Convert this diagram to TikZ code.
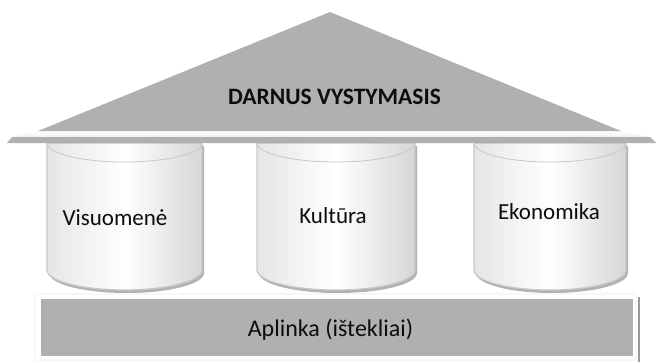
\documentclass[tikz,border=0pt]{standalone}
\usepackage{fontspec}
\setmainfont{Carlito}
\usetikzlibrary{shapes,calc}
\definecolor{roofgray}{RGB}{176,176,176}

\begin{document}
\begin{tikzpicture}[x=1pt,y=-1pt,every text node part/.style={align=center},
    roof/.style={fill=roofgray},
    slab/.style={fill=roofgray},
    pillar/.style={draw=black!22,line width=1.2pt,left color=black!10,right color=black!16,middle color=white},
    pillartop/.style={draw=black!22,line width=0.8pt},
    pillarshadow/.style={fill=black!30},
    pillartext/.style={text=black!95,font=\fontsize{23}{26}\selectfont},
    rooftext/.style={text=black!95,font=\bfseries\fontsize{23.5}{26}\selectfont},
    bartext/.style={text=black!95,font=\fontsize{24}{27}\selectfont},
    basebar/.style={fill=roofgray,minimum width=592pt,minimum height=57pt,inner sep=0pt}]
  \useasboundingbox (0,0) rectangle (656,362);

  % Pillars
  \fill[pillarshadow] (49,146) -- (49,273) arc[start angle=180,end angle=360,x radius=77.5pt,y radius=20pt] -- (204,146) -- cycle;
  \fill[pillarshadow] (259,146) -- (259,273) arc[start angle=180,end angle=360,x radius=79pt,y radius=20pt] -- (417,146) -- cycle;
  \fill[pillarshadow] (476,146) -- (476,273) arc[start angle=180,end angle=360,x radius=76pt,y radius=20pt] -- (628,146) -- cycle;
  \draw[pillar] (47,143) -- (47,270) arc[start angle=180,end angle=360,x radius=77.5pt,y radius=20pt] -- (202,143) -- cycle;
  \draw[pillar] (257,143) -- (257,270) arc[start angle=180,end angle=360,x radius=79pt,y radius=20pt] -- (415,143) -- cycle;
  \draw[pillar] (474,143) -- (474,270) arc[start angle=180,end angle=360,x radius=76pt,y radius=20pt] -- (626,143) -- cycle;
  \draw[pillartop] (47,143) arc[start angle=180,end angle=360,x radius=77.5pt,y radius=19pt];
  \draw[pillartop] (257,143) arc[start angle=180,end angle=360,x radius=79pt,y radius=19pt];
  \draw[pillartop] (474,143) arc[start angle=180,end angle=360,x radius=76pt,y radius=19pt];
  \node[pillartext] (C1) at (115,218) {Visuomenė};
  \node[pillartext] (C2) at (333,216) {Kultūra};
  \node[pillartext] (C3) at (549,212) {Ekonomika};

  % Roof
  \shade[top color=white,bottom color=black!6] (38,131) -- (621,131) -- (650,137) -- (12,137) -- cycle;
  \fill[slab] (12,137) -- (650,137) -- (656,143) -- (7,143) -- cycle;
  \fill[roof] (330,12) -- (621,131) -- (38,131) -- cycle;
  \node[rooftext] (R0) at (334.5,97) {DARNUS VYSTYMASIS};

  % Base
  \draw[black!3,line width=1.5pt] (35,294) rectangle (636,360);
  \node[basebar] (B0) at (337,327.5) {};
  \node[bartext] (L0) at (330.5,330) {Aplinka (ištekliai)};
  \draw[black!40,line width=1.6pt] (639,297) -- (639,362);

\end{tikzpicture}
\end{document}
